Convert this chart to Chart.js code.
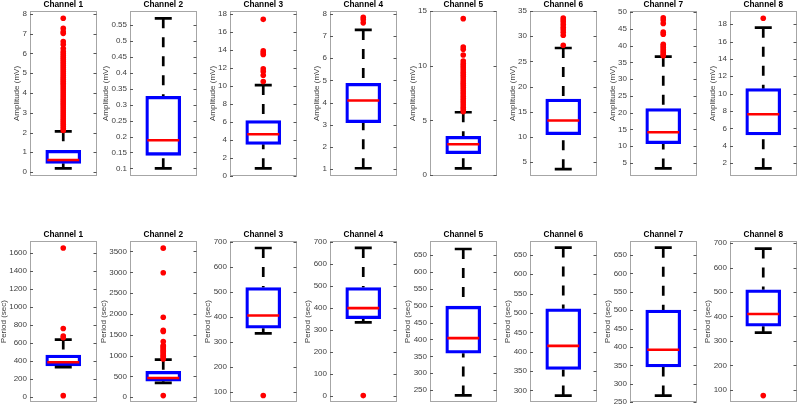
<!DOCTYPE html>
<html><head><meta charset="utf-8">
<script src="https://cdn.jsdelivr.net/npm/chart.js@4.4.1/dist/chart.umd.min.js"></script>
<style>
html,body{margin:0;padding:0;background:#fff;width:800px;height:410px;overflow:hidden}
.p{position:absolute;width:100px}
canvas{display:block}
</style></head><body>
<script>
const channels = ['Channel 1','Channel 2','Channel 3','Channel 4','Channel 5','Channel 6','Channel 7','Channel 8'];

// ---- Amplitude (mV) row ----
const ampLow  = [0.19, 0.100, 0.85, 1.03, 0.61, 3.63, 3.4, 1.39];
const ampQ1   = [0.44, 0.141, 3.52, 3.09, 1.95, 10.46, 10.76, 5.23];
const ampMed  = [0.61, 0.188, 4.63, 4.09, 2.81, 13.3, 14.15, 7.62];
const ampQ3   = [1.10, 0.326, 6.15, 4.87, 3.54, 17.54, 21.2, 10.57];
const ampHigh = [2.06, 0.571, 10.1, 7.28, 5.74, 27.66, 36.7, 17.61];
const ampOut = [
  [2.1,2.2,2.3,2.4,2.5,2.6,2.7,2.8,2.9,3.0,3.1,3.2,3.3,3.4,3.5,3.6,3.7,3.8,3.9,4.0,4.1,4.2,4.3,4.4,4.5,4.6,4.7,4.8,4.9,5.0,5.1,5.2,5.3,5.4,5.5,5.6,5.7,5.8,5.9,6.0,6.1,6.25,6.45,6.6,7.02,7.1,7.27,7.78],
  [],
  [10.5,11.2,11.6,11.9,13.5,13.7,13.9,17.4],
  [7.6,7.75,7.85],
  [5.8,6.0,6.2,6.4,6.6,6.8,7.0,7.2,7.4,7.6,7.8,8.0,8.2,8.4,8.6,8.8,9.0,9.2,9.4,9.6,9.8,10.0,10.2,10.43,10.98,11.5,11.7,14.3],
  [28.2,30.2,30.8,31.3,31.8,32.3,32.8,33.2,33.6],
  [37.0,37.4,37.9,38.4,38.9,39.4,39.9,40.4,43.4,44.0,46.6,47.6,48.3],
  [18.7]
];
const ampMin = [-0.2, 0.076, 0, 0.68, -0.09, 2.28, 1.13, 0.5];
const ampMax = [8.15, 0.594, 18.33, 8.135, 15, 35, 50.3, 19.53];
const ampTicks = [
  [0,1,2,3,4,5,6,7,8],
  [0.1,0.15,0.2,0.25,0.3,0.35,0.4,0.45,0.5,0.55],
  [0,2,4,6,8,10,12,14,16,18],
  [1,2,3,4,5,6,7,8],
  [0,5,10,15],
  [5,10,15,20,25,30,35],
  [5,10,15,20,25,30,35,40,45,50],
  [2,4,6,8,10,12,14,16,18]
];

// ---- Period (sec) row ----
const perLow  = [335, 346, 335, 335, 234, 286.5, 268, 333.5];
const perQ1   = [349, 385, 355.6, 352, 359, 354, 346, 360];
const perMed  = [389, 464, 406, 399.5, 404, 415, 392.5, 410];
const perQ3   = [469, 621, 518, 493, 498.5, 511, 500.5, 509];
const perHigh = [640, 904, 676, 673, 668, 669, 669.8, 678];
const perOut = [
  [18, 660, 680, 763, 1657],
  [40, 920, 950, 980, 1010, 1040, 1070, 1100, 1130, 1160, 1190, 1220, 1250, 1340, 1580, 1610, 1920, 2990, 3580],
  [86],
  [2],
  [],
  [],
  [],
  [76]
];
const perMin = [-54.5, -118, 59.5, -28, 214, 269.5, 250, 49];
const perMax = [1734, 3752, 704, 704.5, 691.7, 686, 688, 709];
const perTicks = [
  [0,200,400,600,800,1000,1200,1400,1600],
  [0,500,1000,1500,2000,2500,3000,3500],
  [100,200,300,400,500,600,700],
  [0,100,200,300,400,500,600,700],
  [250,300,350,400,450,500,550,600,650],
  [300,350,400,450,500,550,600,650],
  [250,300,350,400,450,500,550,600,650],
  [100,200,300,400,500,600,700]
];

const FONT = "'Liberation Sans', Arial, Helvetica, sans-serif";
const TICK_FONT_SIZE = 8;
const measureCtx = document.createElement('canvas').getContext('2d');
measureCtx.font = TICK_FONT_SIZE + 'px ' + FONT;

const frame = {
  id: 'frame',
  beforeDatasetsDraw(chart) {
    const {ctx, chartArea: a, scales: {y}} = chart;
    ctx.save();
    ctx.strokeStyle = '#a6a6a6';
    ctx.lineWidth = 1;
    ctx.strokeRect(Math.round(a.left) + 0.5, Math.round(a.top) + 0.5, Math.round(a.width) - 1, Math.round(a.height) - 1);
    ctx.strokeStyle = '#555';
    ctx.beginPath();
    y.ticks.forEach(t => {
      const py = Math.round(y.getPixelForValue(t.value)) + 0.5;
      ctx.moveTo(a.left, py); ctx.lineTo(a.left + 3, py);
      ctx.moveTo(a.right - 3, py); ctx.lineTo(a.right, py);
    });
    ctx.stroke();
    ctx.restore();
  }
};

function fmt(v) { return String(+Number(v).toFixed(4)); }

function makeBox(row, i, title, yTitle, lo, q1, med, q3, hi, out, yMin, yMax, ticks) {
  const div = document.createElement('div');
  div.className = 'p';
  const H = row ? 180 : 230;
  div.style.left = (100 * i) + 'px';
  div.style.top = (row ? 230 : 0) + 'px';
  div.style.height = H + 'px';
  const cv = document.createElement('canvas');
  cv.width = 100; cv.height = H;
  div.appendChild(cv);
  document.body.appendChild(div);

  const AXIS_W = 30;
  const maxLabelW = Math.max(...ticks.map(v => measureCtx.measureText(fmt(v)).width));
  const titleLH = 8;
  const titlePadTop = Math.max(0, AXIS_W - 3 - maxLabelW - 1.5 - titleLH);

  new Chart(cv, {
    type: 'bar',
    data: {
      datasets: [
        {type: 'scatter', data: out.map(v => ({x: 1, y: v})), backgroundColor: '#ff0000', borderColor: '#ff0000',
         pointRadius: 2.8, pointBorderWidth: 0, order: 0},
        {type: 'scatter', data: [{x: 1, y: med}], pointStyle: 'line', pointRadius: 16, borderColor: '#ff0000',
         pointBorderColor: '#ff0000', pointBorderWidth: 2.6, order: 1},
        {type: 'scatter', data: [{x: 1, y: lo}, {x: 1, y: hi}], pointStyle: 'line', pointRadius: 8.5, borderColor: '#000',
         pointBorderColor: '#000', pointBorderWidth: 2.7, order: 2},
        {type: 'bar', data: [{x: 1, y: [q1, q3]}], barThickness: 35, borderWidth: 2.6, borderColor: '#0000ff',
         backgroundColor: 'rgba(0,0,0,0)', borderSkipped: false, order: 3},
        {type: 'line', data: [{x: 1, y: hi}, {x: 1, y: q3}], borderColor: '#000', borderWidth: 2.7, borderDash: [10, 9],
         borderCapStyle: 'butt', pointRadius: 0, order: 4},
        {type: 'line', data: [{x: 1, y: lo}, {x: 1, y: q1}], borderColor: '#000', borderWidth: 2.7, borderDash: [10, 9],
         borderCapStyle: 'butt', pointRadius: 0, order: 5}
      ]
    },
    options: {
      responsive: false, animation: false, events: [],
      layout: {autoPadding: false, padding: {left: 0, right: 3.5, top: 0, bottom: row ? 5 : 54}},
      plugins: {
        legend: {display: false}, tooltip: {enabled: false},
        title: {display: true, fullSize: false, text: title, color: '#000',
                font: {family: FONT, size: 8.3, weight: 'bold', lineHeight: '10px'}, padding: {top: 0, bottom: 1}}
      },
      scales: {
        x: {type: 'linear', min: 0, max: 2, display: false},
        y: {type: 'linear', min: yMin, max: yMax,
            grid: {display: false, drawTicks: false, tickLength: 0}, border: {display: false},
            afterBuildTicks: (s) => { s.ticks = ticks.map(v => ({value: v})); },
            afterFit: (s) => { s.width = AXIS_W; },
            ticks: {padding: 3, color: '#404040', autoSkip: false,
                    font: {family: FONT, size: TICK_FONT_SIZE}, callback: (v) => fmt(v)},
            title: {display: true, text: yTitle, color: '#404040',
                    font: {family: FONT, size: 8, lineHeight: titleLH + 'px'}, padding: {top: titlePadTop, bottom: 0}}}
      }
    },
    plugins: [frame]
  });
}

for (let i = 0; i < 8; i++) {
  makeBox(0, i, channels[i], 'Amplitude (mV)', ampLow[i], ampQ1[i], ampMed[i], ampQ3[i], ampHigh[i], ampOut[i], ampMin[i], ampMax[i], ampTicks[i]);
  makeBox(1, i, channels[i], 'Period (sec)', perLow[i], perQ1[i], perMed[i], perQ3[i], perHigh[i], perOut[i], perMin[i], perMax[i], perTicks[i]);
}
</script>
</body></html>
